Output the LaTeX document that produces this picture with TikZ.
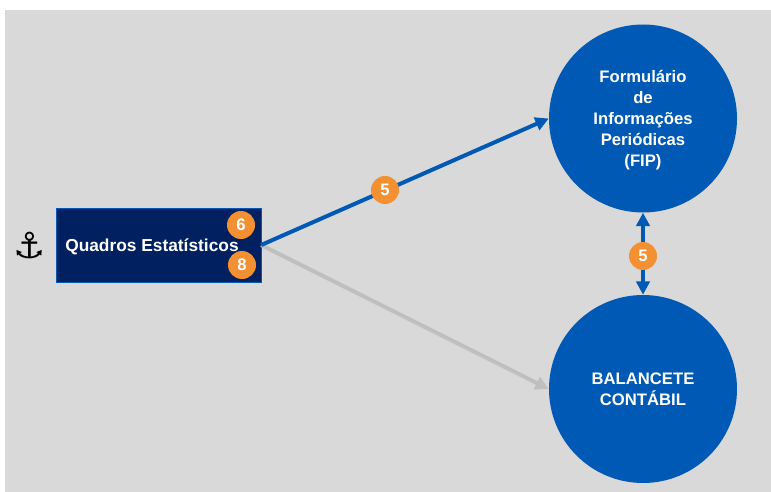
\documentclass[tikz,border=0pt]{standalone}
\usepackage{fontspec}
\setmainfont{Liberation Sans}
\newfontfamily\symbolfont{DejaVu Sans}
\usetikzlibrary{arrows.meta}
\definecolor{panelgray}{RGB}{217,217,217}
\definecolor{circleblue}{RGB}{0,90,181}
\definecolor{boxnavy}{RGB}{0,32,96}
\definecolor{badgeorange}{RGB}{243,145,50}
\definecolor{linegray}{RGB}{191,191,191}
\tikzset{
  bignode/.style={circle,fill=circleblue,minimum size=141pt,inner sep=0pt,text=white,align=center,font=\bfseries\fontsize{12.5}{15.6}\selectfont},
  badge/.style={circle,fill=badgeorange,minimum size=21pt,inner sep=0pt,text=white,font=\bfseries\fontsize{12.5}{14}\selectfont},
  link/.style={line width=3pt,-{Triangle[length=10pt,width=10pt]}},
}

\begin{document}
\begin{tikzpicture}[x=0.75pt,y=0.75pt,yscale=-1,xscale=1]
\useasboundingbox (0,0) rectangle (771,492);

%Background
\fill [white] (0,0) rectangle (771,492);
\fill [panelgray] (5,10) rectangle (771,492);

%Shape: Quadros
\node [fill=boxnavy,draw=circleblue,line width=0.3pt,minimum width=153.75pt,minimum height=55.5pt,inner sep=0pt,text=white,font=\bfseries\fontsize{13}{14}\selectfont] (quadros) at (158.5,245) {\hspace*{-9.8pt}\rule{0pt}{12pt}Quadros Estatísticos};

%Shape: Circles
\node [bignode] (fip) at (643,118.5) {\rule{0pt}{11.5pt}Formulário\\de\\Informações\\Periódicas\\(FIP)};
\node [bignode] (balancete) at (643,389) {BALANCETE\\CONTÁBIL};

%Straight Lines
\draw [link,color=linegray] (quadros.east) -- (balancete.west);
\draw [link,color=circleblue] (quadros.east) -- (fip.west);
\draw [link,color=circleblue,{Triangle[length=10pt,width=10pt]}-{Triangle[length=10pt,width=10pt]}] (fip.south) -- (balancete.north);

% Text Node
\node [font=\symbolfont\fontsize{27}{28}\selectfont] (anchor) at (30,245) {⚓};
\node [badge] (six) at (241,225) {6};
\node [badge] (eight) at (242,265) {8};
\node [badge] (fiveleft) at (385,190) {5};
\node [badge] (fiveright) at (643,256) {5};

\end{tikzpicture}
\end{document}
